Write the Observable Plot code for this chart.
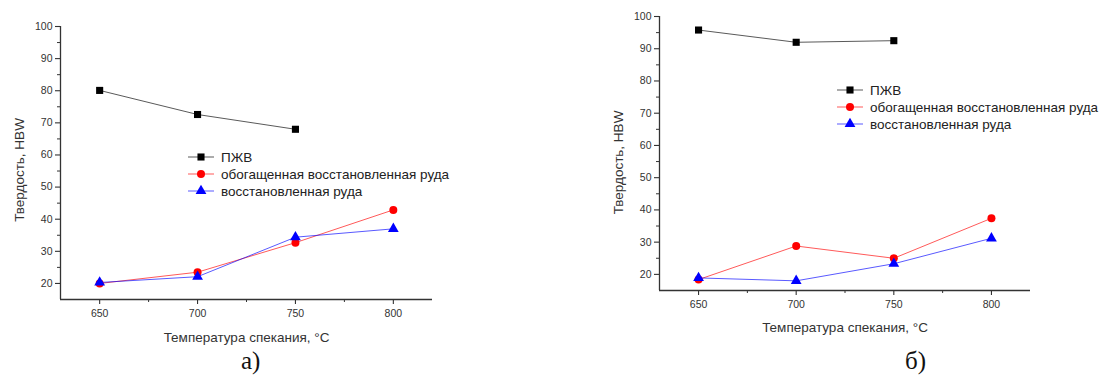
<!DOCTYPE html>
<html>
<head>
<meta charset="utf-8">
<script src="https://cdn.jsdelivr.net/npm/d3@7"></script>
<script src="https://cdn.jsdelivr.net/npm/@observablehq/plot@0.6"></script>
<style>
  html, body { margin: 0; padding: 0; background: #fff; }
  #fig { position: relative; width: 1101px; height: 380px; background: #fff; overflow: hidden;
         font-family: "Liberation Sans", Arial, sans-serif; color: #333; }
  .panel { position: absolute; top: 0; }
  .legend { position: absolute; }
  .lrow { position: absolute; left: 0; height: 16px; display: flex; align-items: center; white-space: nowrap;
          font-size: 13.5px; color: #222; }
  .lrow svg { display: block; }
  .lrow span { margin-left: 7px; }
  .cap { position: absolute; font-family: "Liberation Serif", "DejaVu Serif", serif; font-size: 25px; color: #111; }
</style>
</head>
<body>
<div id="fig">
  <div id="pa" class="panel" style="left:0px"></div>
  <div id="pb" class="panel" style="left:580px"></div>
  <div id="la" class="legend" style="left:188px; top:149px"></div>
  <div id="lb" class="legend" style="left:837px; top:82px"></div>
  <div class="cap" style="left:241px; top:347px">а)</div>
  <div class="cap" style="left:905px; top:347px">б)</div>
</div>
<script>
// ---- data ----
const temps = [650, 700, 750, 800];
const seriesNames = ["ПЖВ", "обогащенная восстановленная руда", "восстановленная руда"];
const seriesColors = ["#000000", "#ff0000", "#0000ff"];
const seriesSymbols = ["square", "circle", "triangle"];

// panel а)
const a_pzhv     = [80.1, 72.6, 68.0, null];
const a_enriched = [20.0, 23.5, 32.7, 42.9];
const a_reduced  = [20.3, 22.1, 34.4, 37.0];
// panel б)
const b_pzhv     = [95.8, 92.0, 92.5, null];
const b_enriched = [18.4, 28.8, 25.0, 37.4];
const b_reduced  = [18.9, 18.0, 23.3, 31.2];

const xTicks = [650, 700, 750, 800];
const xMinor = [675, 725, 775];
const yTicks = [20, 30, 40, 50, 60, 70, 80, 90, 100];
const yMinor = [25, 35, 45, 55, 65, 75, 85, 95];
const xTitle = "Температура спекания, °C";
const yTitle = "Твердость, HBW";

function rows(lists) {
  const out = [];
  lists.forEach((vals, i) => vals.forEach((v, j) => {
    if (v != null) out.push({series: seriesNames[i], t: temps[j], v});
  }));
  return out;
}

function makePlot(data, o) {
  return Plot.plot({
    width: o.width, height: o.height,
    marginTop: o.mt, marginBottom: o.mb, marginLeft: o.ml, marginRight: o.mr,
    x: {domain: [630, 820]},
    y: {domain: [15, 100]},
    color: {domain: seriesNames, range: seriesColors},
    symbol: {domain: seriesNames, range: seriesSymbols},
    style: {fontFamily: "'Liberation Sans', Arial, sans-serif", color: "#333", background: "white", overflow: "visible"},
    marks: [
      Plot.axisY({ticks: yTicks, tickSize: 5, tickPadding: 3, fontSize: 10.5, label: null, stroke: "#333", strokeWidth: 1.1}),
      Plot.axisY({ticks: yMinor, tickSize: 3, tickFormat: () => "", label: null, stroke: "#333"}),
      Plot.axisX({ticks: xTicks, tickSize: 5, tickPadding: 5, fontSize: 10.5, label: null, stroke: "#333", strokeWidth: 1.1}),
      Plot.axisX({ticks: xMinor, tickSize: 3, tickFormat: () => "", label: null, stroke: "#333"}),
      Plot.ruleX([630], {stroke: "#333", strokeWidth: 1.3}),
      Plot.ruleY([15], {stroke: "#333", strokeWidth: 1.3}),
      Plot.line(data, {x: "t", y: "v", z: "series", stroke: "series", strokeWidth: 1, strokeOpacity: 0.65}),
      Plot.dot(data, {x: "t", y: "v", symbol: "series", fill: "series", stroke: "none", r: 4}),
      Plot.text([xTitle], {frameAnchor: "bottom", textAnchor: "middle", lineAnchor: "middle", dy: o.xdy, fontSize: 13.5, fill: "#333"}),
      Plot.text([yTitle], {frameAnchor: "left", textAnchor: "middle", lineAnchor: "middle", rotate: -90, dx: -41, dy: o.ydy, fontSize: 13.5, fill: "#333"})
    ]
  });
}

document.getElementById("pa").append(makePlot(rows([a_pzhv, a_enriched, a_reduced]),
  {width: 470, height: 350, mt: 26, mb: 51, ml: 60, mr: 38, xdy: 38, ydy: 7}));
document.getElementById("pb").append(makePlot(rows([b_pzhv, b_enriched, b_reduced]),
  {width: 521, height: 350, mt: 16, mb: 60, ml: 79, mr: 71, xdy: 37, ydy: 9}));

// legends
function legend(id, spacing) {
  const el = document.getElementById(id);
  seriesNames.forEach((name, i) => {
    const row = document.createElement("div");
    row.className = "lrow";
    row.style.top = (i * spacing) + "px";
    const svg = d3.create("svg").attr("width", 26).attr("height", 16);
    svg.append("line").attr("x1", 0).attr("x2", 26).attr("y1", 8).attr("y2", 8)
      .attr("stroke", seriesColors[i]).attr("stroke-opacity", 0.65).attr("stroke-width", 1);
    const sym = {square: d3.symbolSquare, circle: d3.symbolCircle, triangle: d3.symbolTriangle}[seriesSymbols[i]];
    svg.append("path").attr("d", d3.symbol(sym, 16 * Math.PI)())
      .attr("transform", "translate(13,8)").attr("fill", seriesColors[i]);
    row.append(svg.node());
    const sp = document.createElement("span");
    sp.textContent = name;
    row.append(sp);
    el.append(row);
  });
}
legend("la", 17);
legend("lb", 17);
</script>
</body>
</html>
